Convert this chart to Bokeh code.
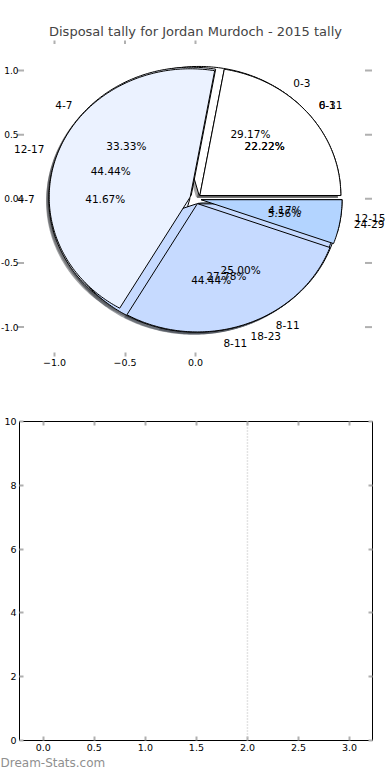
import math
from bokeh.plotting import figure
from bokeh.models import (ColumnDataSource, FixedTicker, CustomJSTickFormatter,
                          LinearAxis, Span, Title, Range1d)
from bokeh.core.properties import value
from bokeh.embed import file_html
from bokeh.resources import INLINE

# ---------------- data ----------------
title_text = "Disposal tally for Jordan Murdoch - 2015 tally"
# three tallies drawn on the same axes (drawn bottom to top)
tally_a_labels = ["0-3", "4-7", "8-11", "12-15"]
tally_a_counts = [7, 10, 6, 1]
tally_c_labels = ["0-3", "4-7", "8-11"]
tally_c_counts = [2, 3, 4]
tally_b_labels = ["6-11", "12-17", "18-23", "24-29"]
tally_b_counts = [4, 8, 5, 1]
wedge_colors = ["#ffffff", "#ebf2ff", "#c6daff", "#b3d4ff"]

pie_x_ticks = [-1.0, -0.5, 0.0]
pie_y_ticks = [-1.0, -0.5, 0.0, 0.5, 1.0]
bar_x_ticks = [0.0, 0.5, 1.0, 1.5, 2.0, 2.5, 3.0]
bar_y_ticks = [0, 2, 4, 6, 8, 10]
marker_x = [2.0]
watermark = "Dream-Stats.com"

# ---------------- style ----------------
FONT = "DejaVu Sans"
EXPLODE = 0.04
SHADOW_OFF = 0.02
LABEL_DIST = 1.1
PCT_DIST = 0.6
TICK_GRAY = "#b0b0b0"
# visible pie axes box (data units)
BOX_L, BOX_R, BOX_B, BOX_T = -1.241, 1.227, -1.227, 1.234

pies = [(tally_a_labels, tally_a_counts),
        (tally_c_labels, tally_c_counts),
        (tally_b_labels, tally_b_counts)]


def wedge_poly(cx, cy, t1, t2):
    n = max(2, int(abs(t2 - t1))) + 1
    xs = [cx]
    ys = [cy]
    for i in range(n):
        t = math.radians(t1 + (t2 - t1) * i / (n - 1))
        xs.append(cx + math.cos(t))
        ys.append(cy + math.sin(t))
    return xs, ys


shadow = dict(xs=[], ys=[], color=[])
wedge_layers = []
texts_l = dict(x=[], y=[], text=[])
texts_r = dict(x=[], y=[], text=[])
pcts = dict(x=[], y=[], text=[])

for labels, counts in pies:
    total = float(sum(counts))
    layer = dict(xs=[], ys=[], color=[])
    start = 0.0
    for i, (lab, c) in enumerate(zip(labels, counts)):
        frac = c / total
        t1 = start
        t2 = start + 360.0 * frac
        tm = math.radians((t1 + t2) / 2)
        cx = EXPLODE * math.cos(tm)
        cy = EXPLODE * math.sin(tm)
        xs, ys = wedge_poly(cx, cy, t1, t2)
        col = wedge_colors[i % len(wedge_colors)]
        layer["xs"].append(xs)
        layer["ys"].append(ys)
        layer["color"].append(col)
        r = int(col[1:3], 16); g = int(col[3:5], 16); b = int(col[5:7], 16)
        shadow["xs"].append([x - SHADOW_OFF for x in xs])
        shadow["ys"].append([y - SHADOW_OFF for y in ys])
        shadow["color"].append("#%02x%02x%02x" % (int(r * 0.3), int(g * 0.3), int(b * 0.3)))
        lx = cx + LABEL_DIST * math.cos(tm)
        ly = cy + LABEL_DIST * math.sin(tm)
        tgt = texts_l if lx > 0 else texts_r
        tgt["x"].append(lx)
        tgt["y"].append(ly)
        tgt["text"].append(lab)
        pcts["x"].append(cx + PCT_DIST * math.cos(tm))
        pcts["y"].append(cy + PCT_DIST * math.sin(tm))
        pcts["text"].append("%.2f%%" % (100 * frac))
        start = t2
    wedge_layers.append(layer)

fmt_x = CustomJSTickFormatter(code="return tick.toFixed(1).replace('-', '\u2212');")
fmt_blank = CustomJSTickFormatter(code="return '';")


def style_axis(ax, show_labels=True):
    ax.axis_line_color = None
    ax.major_tick_line_color = TICK_GRAY
    ax.major_tick_line_width = 2
    ax.major_tick_in = 4
    ax.major_tick_out = 0
    ax.minor_tick_line_color = None
    ax.major_label_text_font = FONT
    ax.major_label_text_font_size = "9.5px"
    ax.major_label_text_color = "#000000"
    ax.major_label_standoff = 3
    if not show_labels:
        ax.formatter = fmt_blank
        ax.major_label_standoff = 0


# ---------------- pie figure ----------------
p = figure(width=390, height=410,
           x_range=Range1d(-1.383, 1.383), y_range=Range1d(-1.65, 1.234),
           x_axis_location=None, y_axis_location=None,
           output_backend="svg", toolbar_location=None,
           min_border_left=0, min_border_right=0, min_border_top=40,
           min_border_bottom=0, title=title_text)
p.title.align = "center"
p.title.text_font = FONT
p.title.text_font_style = "normal"
p.title.text_font_size = "13px"
p.title.standoff = 4
p.outline_line_color = None
p.grid.visible = False
p.background_fill_color = "#ffffff"
p.border_fill_color = "#ffffff"

ax_b = LinearAxis(ticker=FixedTicker(ticks=pie_x_ticks), formatter=fmt_x,
                  fixed_location=BOX_B)
style_axis(ax_b)
p.add_layout(ax_b, "below")

# tick marks on the other three sides of the (frameless) pie box
p.scatter(x=[BOX_L] * len(pie_y_ticks), y=pie_y_ticks, marker="dash", size=7,
          line_color=TICK_GRAY, line_width=2)
p.scatter(x=[BOX_R] * len(pie_y_ticks), y=pie_y_ticks, marker="dash", size=7,
          line_color=TICK_GRAY, line_width=2)
p.scatter(x=pie_x_ticks, y=[BOX_T] * len(pie_x_ticks), marker="dash", size=7,
          angle=math.pi / 2, line_color=TICK_GRAY, line_width=2)
# y tick labels
p.text(x=[BOX_L] * len(pie_y_ticks), y=pie_y_ticks,
       text=["%.1f" % t for t in pie_y_ticks], text_align="right",
       text_baseline="middle", x_offset=-2, text_font=value(FONT),
       text_font_size="9px", text_color="#000000")

p.patches("xs", "ys", source=ColumnDataSource(shadow), fill_color="color",
          fill_alpha=0.5, line_color=None)
for layer in wedge_layers:
    p.patches("xs", "ys", source=ColumnDataSource(layer), fill_color="color",
              line_color="#000000", line_width=1)

for src, align in ((texts_l, "left"), (texts_r, "right"), (pcts, "center")):
    p.text("x", "y", text="text", source=ColumnDataSource(src),
           text_align=align, text_baseline="middle",
           text_font=value(FONT), text_font_size="10.5px", text_color="#000000")

# ---------------- empty bar figure ----------------
q = figure(width=390, height=368,
           x_range=Range1d(-0.233, 3.225), y_range=Range1d(0, 10),
           output_backend="svg", toolbar_location=None,
           min_border_left=19, min_border_right=18, min_border_top=11,
           min_border_bottom=38)
q.outline_line_color = "#000000"
q.outline_line_width = 1
q.grid.visible = False
q.xaxis.ticker = FixedTicker(ticks=bar_x_ticks)
q.yaxis.ticker = FixedTicker(ticks=bar_y_ticks)
q.xaxis.formatter = fmt_x
style_axis(q.xaxis[0])
style_axis(q.yaxis[0])
q_top = LinearAxis(ticker=FixedTicker(ticks=bar_x_ticks))
style_axis(q_top, False)
q.add_layout(q_top, "above")
q_right = LinearAxis(ticker=FixedTicker(ticks=bar_y_ticks))
style_axis(q_right, False)
q.add_layout(q_right, "right")

for mx in marker_x:
    q.add_layout(Span(location=mx, dimension="height", line_color="#c8c8c8",
                      line_dash="1 2", line_width=1.5))

wm = Title(text=watermark, align="left", text_color="#8f8f8f",
           text_font=FONT, text_font_size="12px", text_font_style="normal",
           offset=-19, standoff=0)
q.add_layout(wm, "below")

# two independent roots so the frames are not forced into alignment
open("out.html", "w").write(file_html([p, q], INLINE))
